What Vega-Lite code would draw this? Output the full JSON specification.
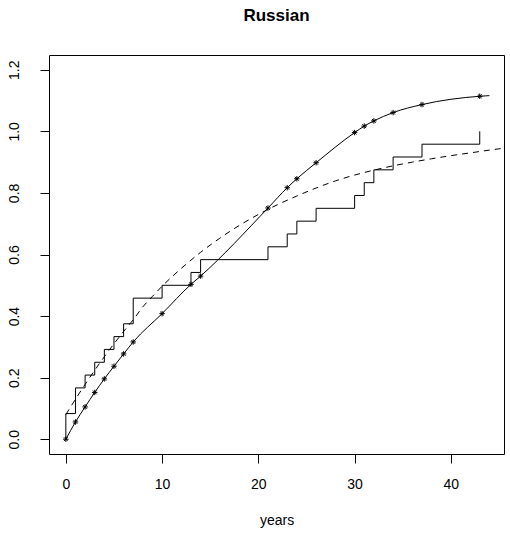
{
  "$schema": "https://vega.github.io/schema/vega-lite/v6.json",
  "width": 455,
  "height": 399,
  "autosize": {"type": "none"},
  "padding": {"left": 49, "top": 55, "right": 6, "bottom": 86},
  "background": "white",
  "title": {"text": "Russian", "font": "Liberation Sans", "fontSize": 17, "fontWeight": "bold", "color": "black", "anchor": "middle", "offset": 17, "baseline": "alphabetic"},
  "config": {
    "view": {"stroke": "black", "strokeWidth": 1},
    "axis": {"grid": false, "domain": false, "tickColor": "black", "tickSize": 9, "tickWidth": 1, "labelFont": "Liberation Sans", "labelFontSize": 14, "labelColor": "black", "titleFont": "Liberation Sans", "titleFontSize": 14, "titleFontWeight": "normal", "titleColor": "black"}
  },
  "datasets": {
    "ecdf": [
      {"t": 0, "v": 0}, {"t": 0, "v": 0.0833}, {"t": 1, "v": 0.1667}, {"t": 2, "v": 0.2083},
      {"t": 3, "v": 0.25}, {"t": 4, "v": 0.2917}, {"t": 5, "v": 0.3333}, {"t": 6, "v": 0.375},
      {"t": 7, "v": 0.4583}, {"t": 10, "v": 0.5}, {"t": 13, "v": 0.5417}, {"t": 14, "v": 0.5833},
      {"t": 21, "v": 0.625}, {"t": 23, "v": 0.6667}, {"t": 24, "v": 0.7083}, {"t": 26, "v": 0.75},
      {"t": 30, "v": 0.7917}, {"t": 31, "v": 0.8333}, {"t": 32, "v": 0.875}, {"t": 34, "v": 0.9167},
      {"t": 37, "v": 0.9583}, {"t": 43, "v": 1.0}
    ],
    "fit": [
      {"t": 0, "v": 0.08}, {"t": 1, "v": 0.13}, {"t": 2, "v": 0.178}, {"t": 3, "v": 0.224},
      {"t": 4, "v": 0.268}, {"t": 5, "v": 0.31}, {"t": 6, "v": 0.35}, {"t": 7, "v": 0.388},
      {"t": 8, "v": 0.43}, {"t": 9, "v": 0.464}, {"t": 10, "v": 0.497}, {"t": 12, "v": 0.555},
      {"t": 14, "v": 0.607}, {"t": 16, "v": 0.653}, {"t": 18, "v": 0.694}, {"t": 20, "v": 0.73},
      {"t": 22, "v": 0.762}, {"t": 24, "v": 0.79}, {"t": 26, "v": 0.816}, {"t": 28, "v": 0.839},
      {"t": 30, "v": 0.858}, {"t": 32, "v": 0.874}, {"t": 34, "v": 0.888}, {"t": 36, "v": 0.9},
      {"t": 38, "v": 0.911}, {"t": 40, "v": 0.921}, {"t": 42, "v": 0.93}, {"t": 44, "v": 0.939},
      {"t": 45.2, "v": 0.944}
    ],
    "est": [
      {"t": 0, "v": 0, "star": true}, {"t": 1, "v": 0.056, "star": true}, {"t": 2, "v": 0.105, "star": true},
      {"t": 3, "v": 0.152, "star": true}, {"t": 4, "v": 0.196, "star": true}, {"t": 5, "v": 0.237, "star": true},
      {"t": 6, "v": 0.277, "star": true}, {"t": 7, "v": 0.316, "star": true}, {"t": 10, "v": 0.408, "star": true},
      {"t": 13, "v": 0.503, "star": true}, {"t": 14, "v": 0.53, "star": true}, {"t": 21, "v": 0.751, "star": true},
      {"t": 23, "v": 0.817, "star": true}, {"t": 24, "v": 0.846, "star": true}, {"t": 26, "v": 0.898, "star": true},
      {"t": 30, "v": 0.996, "star": true}, {"t": 31, "v": 1.017, "star": true}, {"t": 32, "v": 1.034, "star": true},
      {"t": 34, "v": 1.061, "star": true}, {"t": 37, "v": 1.087, "star": true}, {"t": 43, "v": 1.114, "star": true},
      {"t": 44, "v": 1.116, "star": false}
    ]
  },
  "encoding": {
    "x": {"field": "t", "type": "quantitative",
      "scale": {"domain": [-1.75, 45.52], "nice": false, "zero": false},
      "axis": {"values": [0, 10, 20, 30, 40], "labelPadding": 14, "title": "years", "titleY": 66, "titleBaseline": "middle"}},
    "y": {"field": "v", "type": "quantitative",
      "scale": {"domain": [-0.048, 1.248], "nice": false, "zero": false},
      "axis": {"values": [0, 0.2, 0.4, 0.6, 0.8, 1.0, 1.2], "format": ".1f", "labelAngle": -90, "labelAlign": "center", "labelBaseline": "bottom", "labelPadding": 19, "title": null}}
  },
  "layer": [
    {"data": {"name": "ecdf"}, "mark": {"type": "line", "interpolate": "step-after", "color": "black", "strokeWidth": 1}},
    {"data": {"name": "fit"}, "mark": {"type": "line", "interpolate": "monotone", "color": "black", "strokeWidth": 1, "strokeDash": [6, 5]}},
    {"data": {"name": "est"}, "mark": {"type": "line", "interpolate": "monotone", "color": "black", "strokeWidth": 1}},
    {"data": {"name": "est"}, "transform": [{"filter": "datum.star"}],
      "mark": {"type": "point", "shape": "M-1,0L1,0M0,-1L0,1M-0.7,-0.7L0.7,0.7M-0.7,0.7L0.7,-0.7", "filled": false, "color": "black", "strokeWidth": 1, "size": 30, "opacity": 1}}
  ]
}
